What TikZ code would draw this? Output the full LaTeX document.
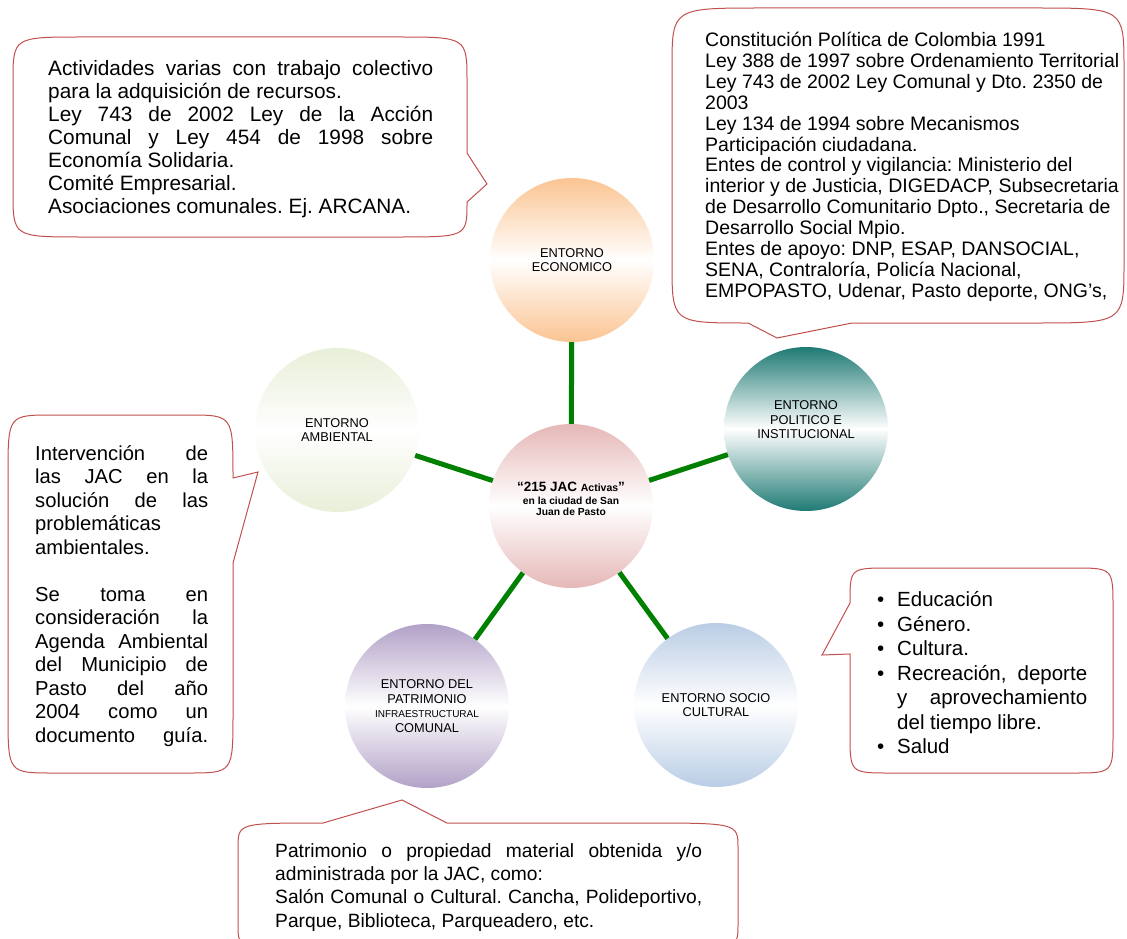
\documentclass[tikz,border=0pt]{standalone}
\usepackage{fontspec}
\setmainfont{Liberation Sans}
\usepackage{color}
\usepackage{tikz}
\setlength{\parindent}{0pt}
\frenchspacing
\hyphenpenalty=10000
\definecolor{globorojo}{RGB}{192,80,77}
\definecolor{enlaceverde}{RGB}{0,128,0}
\definecolor{naranja}{RGB}{251,196,146}
\definecolor{verdeazul}{RGB}{31,122,116}
\definecolor{verdeclaro}{RGB}{232,239,216}
\definecolor{rosado}{RGB}{229,184,183}
\definecolor{lila}{RGB}{178,161,199}
\definecolor{celeste}{RGB}{185,205,229}
\tikzstyle{entorno}=[circle, minimum size=164pt, inner sep=0pt, align=center,
    font=\fontsize{12.8}{14.5}\selectfont]
\tikzstyle{enlace}=[draw=enlaceverde, line width=5pt]
\tikzstyle{globo}=[draw=globorojo, line width=1pt]
\tikzstyle{globo_texto}=[anchor=north west, inner sep=0pt, align=justify,
    font=\fontsize{20.8}{23}\selectfont]
\newcommand{\entornoitem}[1]{\par\hangindent=22pt\hangafter=1\noindent
    \makebox[22pt][l]{\hspace{2pt}\textbullet}#1}

\begin{document}
\begin{tikzpicture}[x=1pt, y=-1pt]
\useasboundingbox (0,0) rectangle (1127,939);
% circulos
\node[entorno, top color=rosado, bottom color=rosado, middle color=white] (jac) at (571,506) {};
\node[align=center, inner sep=0pt, font=\bfseries\fontsize{10.3}{11.5}\selectfont] (jac_texto) at (571,499)
  {{\fontsize{13.5}{15}\selectfont “215 JAC {\fontsize{10.5}{15}\selectfont Activas}”}\\[1pt]
   en la ciudad de San\\ Juan de Pasto};
\node[entorno, top color=naranja, bottom color=naranja, middle color=white] (eco) at (572,260)
  {ENTORNO\\ECONOMICO};
\node[entorno, top color=verdeazul, bottom color=verdeazul, middle color=white] (pol) at (806,429)
  {ENTORNO\\POLITICO E\\INSTITUCIONAL\\[4pt]};
\node[entorno, top color=verdeclaro, bottom color=verdeclaro, middle color=white] (amb) at (337,430)
  {ENTORNO\\AMBIENTAL};
\node[entorno, top color=lila, bottom color=lila, middle color=white] (pat) at (427,706)
  {ENTORNO DEL\\PATRIMONIO\\{\fontsize{10}{12}\selectfont INFRAESTRUCTURAL}\\COMUNAL};
\node[entorno, top color=celeste, bottom color=celeste, middle color=white] (soc) at (716,705)
  {ENTORNO SOCIO\\CULTURAL};
\draw[enlace] (jac) -- (eco);
\draw[enlace] (jac) -- (pol);
\draw[enlace] (jac) -- (amb);
\draw[enlace] (jac) -- (pat);
\draw[enlace] (jac) -- (soc);
% globos
\draw[globo] (240,37) -- (397,37) .. controls (467,37) .. (467,82) -- (467,153) -- (487,184)
  -- (467,202) .. controls (467,237) .. (397,237) -- (83,237) .. controls (13,237) .. (13,192)
  -- (13,82) .. controls (13,37) .. (83,37) -- cycle;
\draw[globo] (900,8) -- (1034,8) .. controls (1124,8) .. (1124,68) -- (1124,263)
  .. controls (1124,323) .. (1034,323) -- (852,323) -- (777,338) -- (748,323)
  .. controls (672,323) .. (672,263) -- (672,68) .. controls (672,8) .. (762,8) -- cycle;
\draw[globo] (120,415) -- (188,415) .. controls (233,415) .. (233,478) -- (258,472) -- (233,563)
  -- (233,713) .. controls (233,773) .. (188,773) -- (53,773) .. controls (8,773) .. (8,713)
  -- (8,475) .. controls (8,415) .. (53,415) -- cycle;
\draw[globo] (980,568) -- (1073,568) .. controls (1113,568) .. (1113,608) -- (1113,733)
  .. controls (1113,773) .. (1073,773) -- (890,773) .. controls (850,773) .. (850,733)
  -- (850,654) -- (822,655) -- (850,603) .. controls (850,568) .. (890,568) -- cycle;
\draw[globo] (238,900) -- (238,848) .. controls (238,823) .. (323,823) -- (402,800) -- (447,823)
  -- (640,823) .. controls (738,823) .. (738,848) -- (738,925) .. controls (738,950) .. (640,950)
  -- (336,950) .. controls (238,950) .. (238,925) -- cycle;
% textos
\node[globo_texto, text width=385pt] (economia) at (48,60)
  {Actividades varias con trabajo colectivo\linebreak para la adquisición de recursos.\par
   Ley 743 de 2002 Ley de la Acción\linebreak Comunal y Ley 454 de 1998 sobre\linebreak
   Economía Solidaria.\par Comité Empresarial.\par Asociaciones comunales. Ej. ARCANA.};
\node[globo_texto, align=left, font=\fontsize{19.5}{20.9}\selectfont] (leyes) at (705,32)
  {Constitución Política de Colombia 1991\\
   Ley 388 de 1997 sobre Ordenamiento Territorial\\
   Ley 743 de 2002 Ley Comunal y Dto. 2350 de\\
   2003\\
   Ley 134 de 1994 sobre Mecanismos\\
   Participación ciudadana.\\
   Entes de control y vigilancia: Ministerio del\\
   interior y de Justicia, DIGEDACP, Subsecretaria\\
   de Desarrollo Comunitario Dpto., Secretaria de\\
   Desarrollo Social Mpio.\\
   Entes de apoyo: DNP, ESAP, DANSOCIAL,\\
   SENA, Contraloría, Policía Nacional,\\
   EMPOPASTO, Udenar, Pasto deporte, ONG’s,};
\node[globo_texto, text width=173pt, font=\fontsize{20.2}{23.5}\selectfont] (ambiente) at (35,445)
  {Intervención de\linebreak las JAC en la\linebreak solución de las\linebreak
   problemáticas\linebreak ambientales.\par\vspace{23.5pt}
   Se toma en\linebreak consideración la\linebreak Agenda Ambiental\linebreak
   del Municipio de\linebreak Pasto del año\linebreak 2004 como un\linebreak
   \makebox[173pt][s]{documento guía.}};
\node[globo_texto, text width=212pt, font=\fontsize{20.5}{24.5}\selectfont] (social) at (875,582)
  {\entornoitem{Educación}\entornoitem{Género.}\entornoitem{Cultura.}
   \entornoitem{Recreación, deporte\linebreak y aprovechamiento\linebreak del tiempo libre.}
   \entornoitem{Salud}};
\node[globo_texto, text width=427pt, font=\fontsize{19.2}{23.3}\selectfont] (patrimonio) at (275,843)
  {Patrimonio o propiedad material obtenida y/o\linebreak administrada por la JAC, como:\par
   Salón Comunal o Cultural. Cancha, Polideportivo,\linebreak Parque, Biblioteca, Parqueadero, etc.};
\end{tikzpicture}
\end{document}
